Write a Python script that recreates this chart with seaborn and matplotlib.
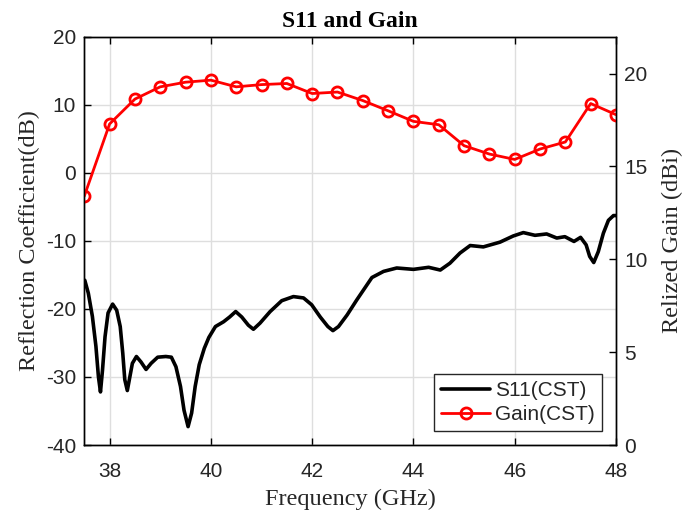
import matplotlib
matplotlib.use("Agg")
import matplotlib.pyplot as plt
import seaborn as sns
from matplotlib.lines import Line2D

# S11 (CST)
freq_s11 = [37.51, 37.58, 37.66, 37.73, 37.78, 37.82, 37.86, 37.91, 37.97, 38.06,
            38.14, 38.21, 38.26, 38.30, 38.35, 38.40, 38.45, 38.53, 38.62, 38.72,
            38.82, 38.95, 39.11, 39.22, 39.31, 39.40, 39.47, 39.55, 39.62, 39.69,
            39.77, 39.87, 39.96, 40.09, 40.25, 40.37, 40.49, 40.61, 40.74, 40.84,
            40.97, 41.17, 41.40, 41.63, 41.83, 41.99, 42.16, 42.31, 42.41, 42.52,
            42.69, 42.88, 43.08, 43.18, 43.41, 43.67, 44.00, 44.30, 44.53, 44.72,
            44.92, 45.12, 45.38, 45.71, 45.97, 46.17, 46.40, 46.63, 46.83, 46.99,
            47.17, 47.30, 47.41, 47.48, 47.56, 47.65, 47.75, 47.85, 47.95, 48.0]
s11_db = [-15.8, -17.7, -21.1, -25.5, -30.0, -32.2, -29.0, -24.1, -20.6, -19.3,
          -20.2, -22.6, -26.5, -30.4, -32.0, -30.0, -28.0, -27.0, -27.8, -28.9,
          -28.0, -27.1, -27.0, -27.1, -28.5, -31.4, -34.9, -37.3, -35.3, -31.4,
          -28.2, -25.8, -24.2, -22.6, -21.9, -21.2, -20.4, -21.2, -22.4, -23.0,
          -22.1, -20.4, -18.8, -18.2, -18.4, -19.4, -21.2, -22.6, -23.2, -22.6,
          -20.9, -18.7, -16.5, -15.4, -14.5, -14.0, -14.2, -13.9, -14.3, -13.3,
          -11.8, -10.7, -10.9, -10.2, -9.3, -8.8, -9.2, -9.0, -9.6, -9.4,
          -10.1, -9.5, -10.6, -12.3, -13.2, -11.6, -8.9, -7.0, -6.3, -6.3]

# Gain (CST), 0.5 GHz steps
freq_gain = [37.5, 38.0, 38.5, 39.0, 39.5, 40.0, 40.5, 41.0, 41.5, 42.0, 42.5,
             43.0, 43.5, 44.0, 44.5, 45.0, 45.5, 46.0, 46.5, 47.0, 47.5, 48.0]
gain_dbi = [13.40, 17.29, 18.63, 19.29, 19.54, 19.65, 19.29, 19.41, 19.47, 18.93, 19.01,
            18.55, 18.00, 17.43, 17.25, 16.12, 15.67, 15.38, 15.94, 16.32, 18.39, 17.79]

x_ticks = [38, 40, 42, 44, 46, 48]
s11_ticks = [-40, -30, -20, -10, 0, 10, 20]
gain_ticks = [0, 5, 10, 15, 20]

sns.set_theme(style="whitegrid")
plt.rcParams['font.family'] = ['Liberation Sans', 'DejaVu Sans']
plt.rcParams['axes.unicode_minus'] = False

txt = '#262626'
serif = ['Liberation Serif', 'DejaVu Serif']

fig = plt.figure(figsize=(6.84, 5.15), dpi=100)
ax = fig.add_axes([0.1232, 0.1359, 0.7774, 0.7932])
ax2 = ax.twinx()

sns.lineplot(x=freq_s11, y=s11_db, ax=ax, color='black', linewidth=2.6)
sns.lineplot(x=freq_gain, y=gain_dbi, ax=ax2, color='red', linewidth=2.0,
             marker='o', markersize=8)
for ln in ax2.lines:
    ln.set_markerfacecolor('none')
    ln.set_markeredgecolor('red')
    ln.set_markeredgewidth(2.0)
for ln in ax.lines:
    ln.set_solid_joinstyle('round')
    ln.set_solid_capstyle('round')

ax.set_xlim(37.5, 48)
ax.set_ylim(-40, 20)
ax2.set_ylim(0, 22)
ax.set_xticks(x_ticks)
ax.set_yticks(s11_ticks)
ax2.set_yticks(gain_ticks)

ax.grid(True, color='#dedede', linewidth=1.0)
ax2.grid(False)
for a in (ax, ax2):
    for sp in a.spines.values():
        sp.set_color('black')
        sp.set_linewidth(1.0)

ax.tick_params(axis='both', direction='in', length=5, width=1, colors='black',
               labelsize=15, labelcolor=txt, top=True, bottom=True, left=True, right=False, pad=6)
ax.tick_params(axis='x', pad=12)
ax2.tick_params(axis='y', direction='in', length=5, width=1, colors='black',
                labelsize=15, labelcolor=txt, pad=6)

ax.set_title('S11 and Gain', fontsize=17, fontweight='bold', family=serif, color='black', pad=7)
ax.set_xlabel('Frequency (GHz)', fontsize=17.5, family=serif, color=txt, labelpad=6)
ax.set_ylabel('Reflection Coefficient(dB)', fontsize=17.5, family=serif, color=txt, labelpad=4)
ax2.set_ylabel('Relized Gain (dBi)', fontsize=17.5, family=serif, color=txt, labelpad=10)

handles = [Line2D([], [], color='black', linewidth=2.6),
           Line2D([], [], color='red', linewidth=2.0, marker='o', markersize=8,
                  markerfacecolor='none', markeredgewidth=2.0)]
for a in (ax, ax2):
    if a.get_legend() is not None:
        a.get_legend().remove()
leg = ax2.legend(handles, ['S11(CST)', 'Gain(CST)'], loc='lower right', fontsize=15,
                 frameon=True, fancybox=False, framealpha=1, edgecolor=txt,
                 handlelength=2.35, handletextpad=0.25, borderpad=0.35,
                 labelspacing=0.25, borderaxespad=0.65)
leg.get_frame().set_linewidth(1.0)

fig.savefig('out.png', dpi=100)
